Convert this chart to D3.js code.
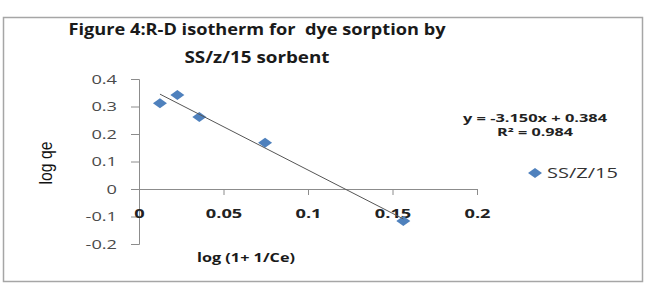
<!DOCTYPE html>
<html><head><meta charset="utf-8">
<script src="https://cdn.jsdelivr.net/npm/d3@7"></script>
<style>body{margin:0;background:#fff;}svg{display:block;} text{white-space:pre;}</style>
</head><body>
<script>
const xValues = [0.0124, 0.0227, 0.0357, 0.0746, 0.1564];
const yValues = [0.312, 0.342, 0.262, 0.168, -0.116];
const seriesName = "SS/Z/15";
const slope = -3.150, intercept = 0.384;
const xTicks = [0, 0.05, 0.1, 0.15, 0.2];
const yTicks = [-0.2, -0.1, 0, 0.1, 0.2, 0.3, 0.4];
const titleLines = ["Figure 4:R-D isotherm for  dye sorption by", "SS/z/15 sorbent"];
const eqLines = ["y = -3.150x + 0.384", "R\u00b2 = 0.984"];

const W = 652, H = 305;
const svg = d3.select("body").append("svg").attr("width", W).attr("height", H);
const font = "'Open Sans', 'Liberation Sans', sans-serif";

function stretch(sel, factor) {
  sel.each(function () {
    const n = this.getComputedTextLength();
    d3.select(this).attr("textLength", n * factor).attr("lengthAdjust", "spacingAndGlyphs");
  });
}
function fit(sel, len) {
  sel.attr("textLength", len).attr("lengthAdjust", "spacingAndGlyphs");
}

svg.append("rect").attr("x", 3.5).attr("y", 17.5).attr("width", 639).attr("height", 264)
  .attr("fill", "#fff").attr("stroke", "#a6a6a6").attr("stroke-width", 1.5);

const x = d3.scaleLinear().domain([0, 0.2]).range([139, 477]);
const y = d3.scaleLinear().domain([-0.2, 0.4]).range([244, 79]);

// title
const tl = svg.selectAll("text.title").data(titleLines).enter().append("text")
  .attr("x", 257).attr("y", (d, i) => 35 + i * 28)
  .attr("text-anchor", "middle").attr("font-family", font).attr("font-weight", "bold")
  .attr("font-size", 16).attr("fill", "#1a1a1a").text(d => d);
fit(tl.filter((d, i) => i === 0), 377);
fit(tl.filter((d, i) => i === 1), 145);

const fmt = d => d === 0 ? "0" : String(d).replace("\u2212", "-");

// y axis
const yAxis = svg.append("g").attr("transform", `translate(${x(0)},0)`)
  .call(d3.axisLeft(y).tickValues(yTicks).tickSize(8).tickPadding(14).tickFormat(fmt));
yAxis.select(".domain").attr("stroke", "#8c8c8c");
yAxis.selectAll(".tick line").attr("stroke", "#8c8c8c");
const ylab = yAxis.selectAll("text").attr("font-family", font).attr("font-size", 13).attr("fill", "#4a4a4a");
stretch(ylab, 1.4);

// x axis at y=0
const xAxis = svg.append("g").attr("transform", `translate(0,${y(0)})`)
  .call(d3.axisBottom(x).tickValues(xTicks).tickSize(6).tickPadding(14).tickFormat(fmt));
xAxis.select(".domain").attr("stroke", "#8c8c8c");
xAxis.selectAll(".tick line").attr("stroke", "#8c8c8c");
const xlab = xAxis.selectAll("text").attr("font-family", font).attr("font-size", 13).attr("font-weight", "bold").attr("fill", "#222");
stretch(xlab, 1.4);

// markers
const diamondPath = "M0,-5L7,0L0,5L-7,0Z";
svg.selectAll("path.pt").data(xValues.map((v, i) => [v, yValues[i]])).enter().append("path")
  .attr("d", diamondPath).attr("transform", d => `translate(${x(d[0])},${y(d[1])})`)
  .attr("fill", "#4f81bd");

// trendline
const x0 = d3.min(xValues), x1 = d3.max(xValues);
svg.append("line").attr("x1", x(x0)).attr("y1", y(slope * x0 + intercept))
  .attr("x2", x(x1)).attr("y2", y(slope * x1 + intercept))
  .attr("stroke", "#555").attr("stroke-width", 1);

// equation
const eq = svg.selectAll("text.eq").data(eqLines).enter().append("text")
  .attr("x", 535).attr("y", (d, i) => 122 + i * 14).attr("text-anchor", "middle")
  .attr("font-family", font).attr("font-weight", "bold").attr("font-size", 10.5).attr("fill", "#222")
  .text(d => d);
fit(eq.filter((d, i) => i === 0), 144);
fit(eq.filter((d, i) => i === 1), 76);

// legend
svg.append("path").attr("d", diamondPath).attr("transform", "translate(535,173)")
  .attr("fill", "#4f81bd");
fit(svg.append("text").attr("x", 547).attr("y", 178).attr("font-family", font).attr("font-size", 14)
  .attr("fill", "#333").text(seriesName), 71);

// axis titles
fit(svg.append("text").attr("transform", "translate(52,163) rotate(-90)").attr("text-anchor", "middle")
  .attr("font-family", "'Liberation Sans Narrow', 'Liberation Sans', sans-serif").attr("font-size", 18)
  .attr("fill", "#111").text("log qe"), 43);
fit(svg.append("text").attr("x", 246).attr("y", 262).attr("text-anchor", "middle")
  .attr("font-family", font).attr("font-weight", "bold").attr("font-size", 12.5)
  .attr("fill", "#1a1a1a").text("log (1+ 1/Ce)"), 98);
</script>
</body></html>
